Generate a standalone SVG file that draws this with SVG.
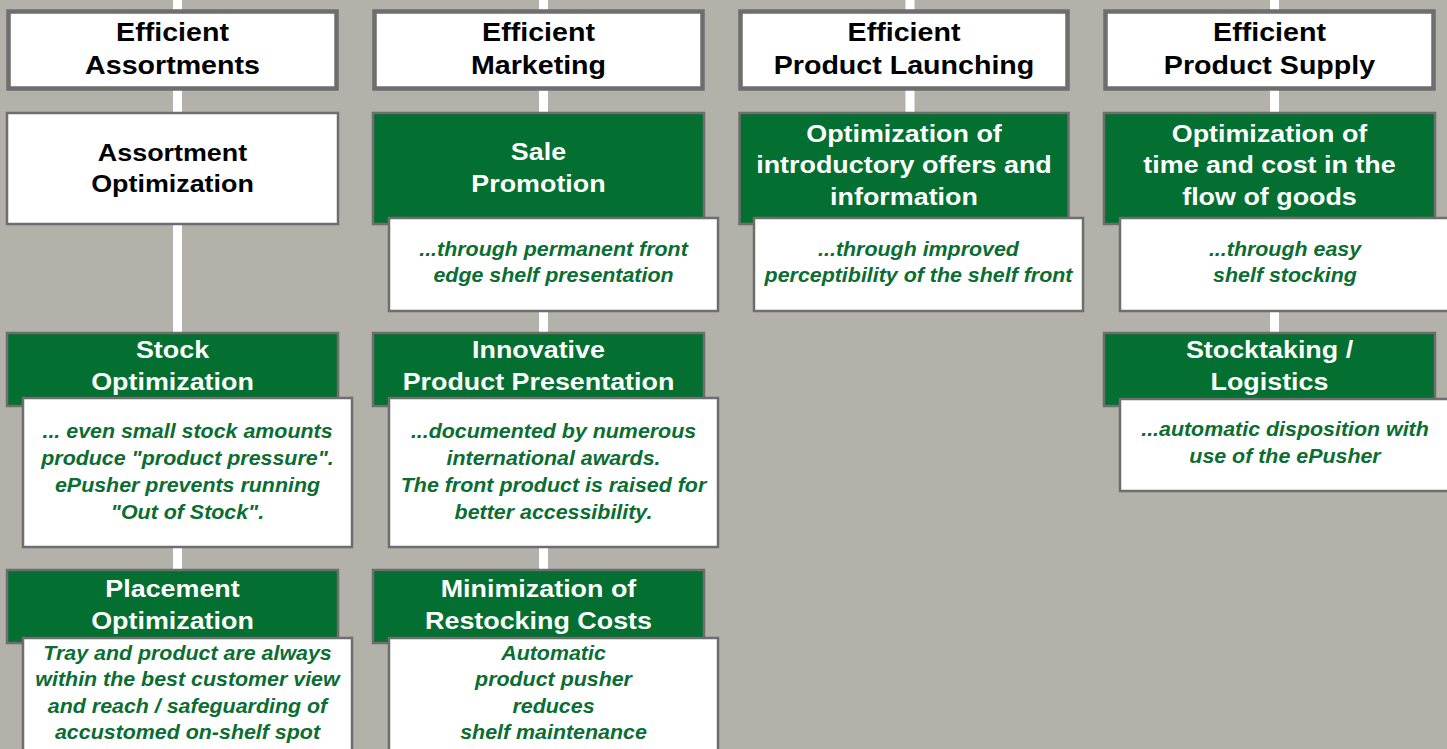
<svg xmlns="http://www.w3.org/2000/svg" width="1447" height="749" viewBox="0 0 1447 749">
  <style>
    .bg { fill: #b2b2aa; }
    .link { stroke: #ffffff; stroke-width: 9; fill: none; }
    .hdr { fill: #ffffff; stroke: #6e6e6e; stroke-width: 4.5; }
    .box { fill: #ffffff; stroke: #6e6e6e; stroke-width: 2.5; }
    .grn { fill: #036f31; stroke: #6e6e6e; stroke-width: 2.5; }
    .dsc { fill: #ffffff; stroke: #6e6e6e; stroke-width: 2.5; }
    text { font-family: "Liberation Sans", Arial, sans-serif; font-weight: bold; text-anchor: middle; }
    .th { font-size: 26px; fill: #000000; }
    .tb { font-size: 24px; fill: #000000; }
    .tg { font-size: 24px; fill: #ffffff; }
    .td { font-size: 20px; font-style: italic; fill: #0a6d32; }
  </style>

  <rect class="bg" x="0" y="0" width="1447" height="749"/>

  <!-- vertical spines behind each column -->
  <g id="connectors">
    <line class="link" x1="177.5" y1="0" x2="177.5" y2="749"/>
    <line class="link" x1="543.5" y1="0" x2="543.5" y2="749"/>
    <line class="link" x1="910" y1="0" x2="910" y2="312"/>
    <line class="link" x1="1274.5" y1="0" x2="1274.5" y2="492"/>
  </g>

  <!-- column 1 -->
  <g id="efficient-assortments">
    <rect class="hdr" x="8.5" y="11.5" width="328" height="77"/>
    <text class="th" transform="translate(172.5 0) scale(1.1 1)"><tspan x="0" y="41">Efficient</tspan><tspan x="0" y="74">Assortments</tspan></text>
  </g>
  <g id="assortment-optimization">
    <rect class="box" x="7" y="113" width="331" height="111"/>
    <text class="tb" transform="translate(172.5 0) scale(1.12 1)"><tspan x="0" y="161">Assortment</tspan><tspan x="0" y="192">Optimization</tspan></text>
  </g>
  <g id="stock-optimization">
    <rect class="grn" x="7" y="333" width="331" height="73"/>
    <text class="tg" transform="translate(172.5 0) scale(1.12 1)"><tspan x="0" y="358">Stock</tspan><tspan x="0" y="390">Optimization</tspan></text>
  </g>
  <g id="stock-optimization-note">
    <rect class="dsc" x="23" y="398" width="329" height="149"/>
    <text class="td" transform="translate(187.5 0) scale(1.07 1)"><tspan x="0" y="438">... even small stock amounts</tspan><tspan x="0" y="465">produce "product pressure".</tspan><tspan x="0" y="492">ePusher prevents running</tspan><tspan x="0" y="519">"Out of Stock".</tspan></text>
  </g>
  <g id="placement-optimization">
    <rect class="grn" x="7" y="570" width="331" height="73"/>
    <text class="tg" transform="translate(172.5 0) scale(1.12 1)"><tspan x="0" y="597">Placement</tspan><tspan x="0" y="629">Optimization</tspan></text>
  </g>
  <g id="placement-optimization-note">
    <rect class="dsc" x="23" y="638" width="329" height="125"/>
    <text class="td" transform="translate(187.5 0) scale(1.07 1)"><tspan x="0" y="660.5">Tray and product are always</tspan><tspan x="0" y="686.5">within the best customer view</tspan><tspan x="0" y="713">and reach / safeguarding of</tspan><tspan x="0" y="739">accustomed on-shelf spot</tspan></text>
  </g>

  <!-- column 2 -->
  <g id="efficient-marketing">
    <rect class="hdr" x="374.5" y="11.5" width="328" height="77"/>
    <text class="th" transform="translate(538.5 0) scale(1.1 1)"><tspan x="0" y="41">Efficient</tspan><tspan x="0" y="74">Marketing</tspan></text>
  </g>
  <g id="sale-promotion">
    <rect class="grn" x="373" y="113" width="331" height="111"/>
    <text class="tg" transform="translate(538.5 0) scale(1.12 1)"><tspan x="0" y="160">Sale</tspan><tspan x="0" y="192">Promotion</tspan></text>
  </g>
  <g id="sale-promotion-note">
    <rect class="dsc" x="389" y="218" width="329" height="93"/>
    <text class="td" transform="translate(553.5 0) scale(1.07 1)"><tspan x="0" y="256.5">...through permanent front</tspan><tspan x="0" y="282.5">edge shelf presentation</tspan></text>
  </g>
  <g id="innovative-presentation">
    <rect class="grn" x="373" y="333" width="331" height="73"/>
    <text class="tg" transform="translate(538.5 0) scale(1.12 1)"><tspan x="0" y="358">Innovative</tspan><tspan x="0" y="390">Product Presentation</tspan></text>
  </g>
  <g id="innovative-presentation-note">
    <rect class="dsc" x="389" y="398" width="329" height="149"/>
    <text class="td" transform="translate(553.5 0) scale(1.07 1)"><tspan x="0" y="438">...documented by numerous</tspan><tspan x="0" y="465">international awards.</tspan><tspan x="0" y="492">The front product is raised for</tspan><tspan x="0" y="519">better accessibility.</tspan></text>
  </g>
  <g id="restocking-costs">
    <rect class="grn" x="373" y="570" width="331" height="73"/>
    <text class="tg" transform="translate(538.5 0) scale(1.12 1)"><tspan x="0" y="597">Minimization of</tspan><tspan x="0" y="629">Restocking Costs</tspan></text>
  </g>
  <g id="restocking-costs-note">
    <rect class="dsc" x="389" y="638" width="329" height="125"/>
    <text class="td" transform="translate(553.5 0) scale(1.07 1)"><tspan x="0" y="660.5">Automatic</tspan><tspan x="0" y="686.5">product pusher</tspan><tspan x="0" y="713">reduces</tspan><tspan x="0" y="739">shelf maintenance</tspan></text>
  </g>

  <!-- column 3 -->
  <g id="efficient-launching">
    <rect class="hdr" x="740.5" y="11.5" width="327" height="77"/>
    <text class="th" transform="translate(904 0) scale(1.1 1)"><tspan x="0" y="41">Efficient</tspan><tspan x="0" y="74">Product Launching</tspan></text>
  </g>
  <g id="introductory-offers">
    <rect class="grn" x="739.5" y="113" width="329" height="111"/>
    <text class="tg" transform="translate(904 0) scale(1.12 1)"><tspan x="0" y="142">Optimization of</tspan><tspan x="0" y="173.5">introductory offers and</tspan><tspan x="0" y="205">information</tspan></text>
  </g>
  <g id="introductory-offers-note">
    <rect class="dsc" x="754" y="218" width="329" height="93"/>
    <text class="td" transform="translate(918.5 0) scale(1.07 1)"><tspan x="0" y="256.5">...through improved</tspan><tspan x="0" y="282.5">perceptibility of the shelf front</tspan></text>
  </g>

  <!-- column 4 -->
  <g id="efficient-supply">
    <rect class="hdr" x="1105.5" y="11.5" width="328" height="77"/>
    <text class="th" transform="translate(1269.5 0) scale(1.1 1)"><tspan x="0" y="41">Efficient</tspan><tspan x="0" y="74">Product Supply</tspan></text>
  </g>
  <g id="flow-of-goods">
    <rect class="grn" x="1104" y="113" width="331" height="111"/>
    <text class="tg" transform="translate(1269.5 0) scale(1.12 1)"><tspan x="0" y="142">Optimization of</tspan><tspan x="0" y="173.5">time and cost in the</tspan><tspan x="0" y="205">flow of goods</tspan></text>
  </g>
  <g id="flow-of-goods-note">
    <rect class="dsc" x="1120" y="218" width="336" height="93"/>
    <text class="td" transform="translate(1285 0) scale(1.07 1)"><tspan x="0" y="256.5">...through easy</tspan><tspan x="0" y="282.5">shelf stocking</tspan></text>
  </g>
  <g id="stocktaking-logistics">
    <rect class="grn" x="1104" y="333" width="331" height="73"/>
    <text class="tg" transform="translate(1269.5 0) scale(1.12 1)"><tspan x="0" y="358">Stocktaking /</tspan><tspan x="0" y="390">Logistics</tspan></text>
  </g>
  <g id="stocktaking-logistics-note">
    <rect class="dsc" x="1120" y="399" width="336" height="92"/>
    <text class="td" transform="translate(1285 0) scale(1.07 1)"><tspan x="0" y="436.5">...automatic disposition with</tspan><tspan x="0" y="463">use of the ePusher</tspan></text>
  </g>
</svg>
